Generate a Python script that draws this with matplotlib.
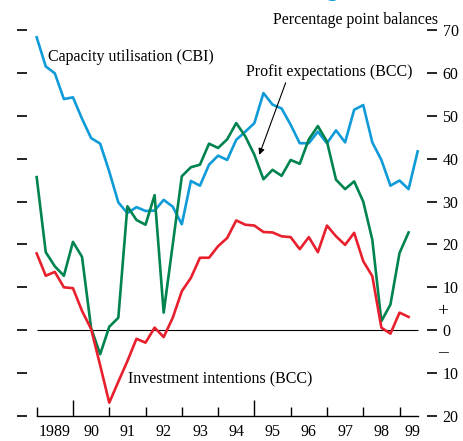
import matplotlib
matplotlib.use("Agg")
import matplotlib.pyplot as plt
from matplotlib.ticker import FixedLocator, NullFormatter

plt.rcParams['font.family'] = ['Liberation Serif', 'DejaVu Serif']

# quarterly data, 1989 Q1 .. 1999 Q3 (percentage point balances)
capacity_cbi = [68.3, 61.5, 59.9, 53.9, 54.3, 49.3, 44.8, 43.5, 37.0, 29.8,
                27.3, 28.7, 27.8, 27.9, 30.4, 28.8, 24.7, 34.8, 33.7, 38.6,
                40.7, 39.7, 44.4, 46.3, 48.3, 55.3, 52.6, 51.7, 47.9, 43.6,
                43.6, 46.3, 43.6, 46.6, 43.8, 51.4, 52.5, 43.8, 39.7, 33.7,
                34.9, 32.9, 41.7]
profit_bcc = [35.7, 18.2, 14.9, 12.7, 20.6, 17.1, 0.5, -5.6, 0.8, 2.9,
              28.9, 25.7, 24.6, 31.5, 4.1, 20.0, 35.9, 38.0, 38.6, 43.5,
              42.5, 44.5, 48.3, 45.2, 40.9, 35.2, 37.4, 36.0, 39.7, 38.8,
              44.5, 47.6, 44.0, 35.1, 32.9, 34.7, 30.0, 21.1, 2.1, 6.0,
              18.0, 22.8]
invest_bcc = [17.9, 12.7, 13.6, 10.0, 9.8, 4.5, 0.3, -8.2, -16.9, -12.0,
              -7.2, -2.0, -2.9, 0.6, -1.6, 2.9, 9.1, 12.2, 16.9, 16.9,
              19.6, 21.5, 25.6, 24.6, 24.4, 22.9, 22.8, 21.9, 21.7, 18.9,
              21.7, 18.2, 24.4, 21.9, 19.9, 22.7, 16.1, 12.6, 0.6, -0.8,
              4.1, 3.1]
year_labels = ['1989', '90', '91', '92', '93', '94', '95', '96', '97', '98', '99']
y_ticks = [-20, -10, 0, 10, 20, 30, 40, 50, 60, 70]
y_labels = ['20', '10', '0', '10', '20', '30', '40', '50', '60', '70']

BLUE = '#0f9bd7'
GREEN = '#00844f'
RED = '#e8202e'

W, H = 463, 441
fig = plt.figure(figsize=(W / 100, H / 100), dpi=100)
ax = fig.add_axes([26.7 / W, 25 / H, 400.3 / W, 386 / H])

ax.plot(range(len(capacity_cbi)), capacity_cbi, color=BLUE, lw=1.9)
ax.plot(range(len(profit_bcc)), profit_bcc, color=GREEN, lw=1.9)
ax.plot(range(len(invest_bcc)), invest_bcc, color=RED, lw=1.9)
ax.hlines(0, 0, 42, color='black', lw=0.8, zorder=0)

ax.set_xlim(-1.10, 43.03)
ax.set_ylim(-20, 70)

for s in ['left', 'right', 'top']:
    ax.spines[s].set_visible(False)
ax.spines['bottom'].set_bounds(0, 42)
ax.spines['bottom'].set_linewidth(1.0)

# year boundaries (Q1 of each year), long ticks at 1990 and 1995
bounds = list(range(0, 41, 4))
ax.xaxis.set_major_locator(FixedLocator([4, 24]))
ax.xaxis.set_minor_locator(FixedLocator([b for b in bounds if b not in (4, 24)]))
ax.xaxis.set_major_formatter(NullFormatter())
ax.tick_params(axis='x', which='major', direction='in', length=11.5, width=1.0)
ax.tick_params(axis='x', which='minor', direction='in', length=6.5, width=1.0)

sec = ax.secondary_xaxis('bottom')
mids = [b + 2 for b in bounds[:-1]] + [41.4]
sec.set_xticks(mids, year_labels)
sec.tick_params(length=0, pad=6, labelsize=11.5)
sec.spines['bottom'].set_visible(False)

ax.set_yticks(y_ticks)
ax.yaxis.set_ticks_position('both')
ax.tick_params(axis='y', direction='out', length=7.2, width=1.2,
               labelleft=False, labelright=True, pad=4, labelsize=11.5)
ax.set_yticklabels(y_labels)

fig.text(442.7 / W, 1 - 311.7 / H, '+', ha='center', va='center', fontsize=14)
fig.text(442.7 / W, 1 - 353.0 / H, '\u2013', ha='center', va='center', fontsize=14)

ax.text(1.25, 63.6, 'Capacity utilisation (CBI)', va='center', fontsize=11.5)
ax.text(32.2, 60.1, 'Profit expectations (BCC)', ha='center', va='center', fontsize=11.5)
ax.text(10.03, -11.5, 'Investment intentions (BCC)', va='center', fontsize=11.5)
fig.text(438.3 / W, 1 - 20 / H, 'Percentage point balances', ha='right', va='center',
         fontsize=11.5)
ax.annotate('', xy=(24.54, 40.9), xytext=(27.45, 57.7),
            arrowprops=dict(arrowstyle='-|>', color='black', lw=0.8,
                            mutation_scale=9, shrinkA=0, shrinkB=0))

# clipped title at the very top of the crop
fig.text(332 / W, 1 + 4 / H, 'g', color=BLUE, ha='center', va='baseline',
         fontsize=16, fontweight='bold')

fig.savefig('out.png', dpi=100, facecolor='white')
